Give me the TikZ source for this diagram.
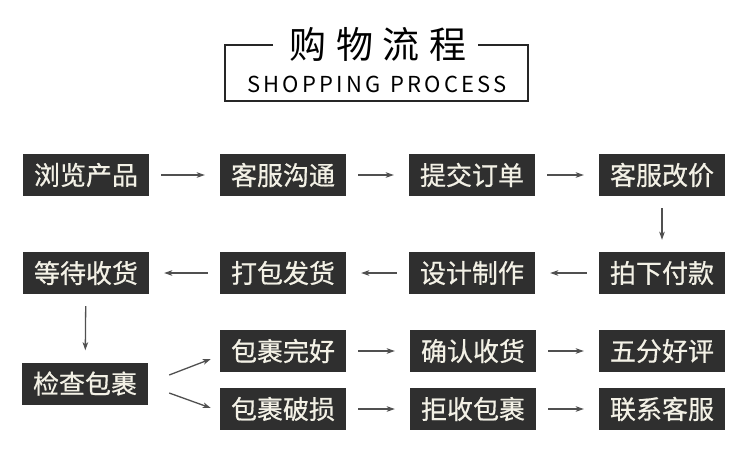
\documentclass[tikz,border=0pt]{standalone}
\usepackage{fontspec}
\setmainfont{Noto Sans CJK SC}
\newfontfamily\cjk[FakeBold=0.6]{Noto Sans CJK SC}
\newfontfamily\cjktitle[LetterSpace=26]{Noto Sans CJK SC}
\newfontfamily\entitle[LetterSpace=15]{Noto Sans CJK SC}
\usetikzlibrary{arrows.meta,calc}
\definecolor{boxgray}{HTML}{2F2F2F}
\definecolor{cream}{HTML}{F3F1E6}
\definecolor{arrgray}{HTML}{505050}
\begin{document}
\begin{tikzpicture}[x=1pt,y=-1pt,
  stepbox/.style={fill=boxgray,text=cream,minimum width=126pt,minimum height=42pt,inner sep=0pt,
    font=\fontsize{26}{30}\selectfont\cjk},
  conn/.style={draw=arrgray,line width=1.3pt,-{Stealth[length=8pt,width=5.5pt,inset=2pt]}},
  hconn/.style={conn,shorten <=12pt,shorten >=15pt},
  vconn/.style={conn,shorten <=12pt,shorten >=12pt}]
\useasboundingbox[fill=white] (0,0) rectangle (750,453);
% title
\draw[line width=1.2pt,color=black!85] (273,45) -- (225,45) -- (225,101) -- (528,101) -- (528,45) -- (478,45);
\node[inner sep=0pt,font=\fontsize{37}{40}\selectfont\cjktitle] (title) at (378,44) {购物流程};
\node[inner sep=0pt,font=\fontsize{22}{24}\selectfont\entitle,anchor=base] (subtitle) at (377,92) {SHOPPING\hspace{9pt}PROCESS};
% row 1
\node[stepbox] (a1) at (86,175) {浏览产品};
\node[stepbox] (a2) at (283,175) {客服沟通};
\node[stepbox] (a3) at (472,175) {提交订单};
\node[stepbox] (a4) at (662,175) {客服改价};
% row 2
\node[stepbox] (b4) at (662,273) {拍下付款};
\node[stepbox] (b3) at (472,273) {设计制作};
\node[stepbox] (b2) at (283,273) {打包发货};
\node[stepbox] (b1) at (86,273) {等待收货};
% row 3
\node[stepbox] (chk) at (85,383.5) {检查包裹};
\node[stepbox] (g1) at (283,351) {包裹完好};
\node[stepbox] (g2) at (473,351) {确认收货};
\node[stepbox] (g3) at (662,351) {五分好评};
\node[stepbox] (d1) at (283,409) {包裹破损};
\node[stepbox] (d2) at (473,409) {拒收包裹};
\node[stepbox] (d3) at (662,409) {联系客服};
% connectors
\draw[hconn] (a1) -- (a2);
\draw[hconn] (a2) -- (a3);
\draw[hconn] (a3) -- (a4);
\draw[vconn] (a4) -- (b4);
\draw[hconn] (b4) -- (b3);
\draw[hconn] (b3) -- (b2);
\draw[hconn] (b2) -- (b1);
\draw[vconn] (b1) -- (chk);
\draw[conn] ($(chk.east)+(21,-8.5)$) -- ($(g1.west)+(-9,8)$);
\draw[conn] ($(chk.east)+(21,9.5)$) -- ($(d1.west)+(-9,-1)$);
\draw[hconn] (g1) -- (g2);
\draw[hconn] (g2) -- (g3);
\draw[hconn] (d1) -- (d2);
\draw[hconn] (d2) -- (d3);
\end{tikzpicture}
\end{document}
